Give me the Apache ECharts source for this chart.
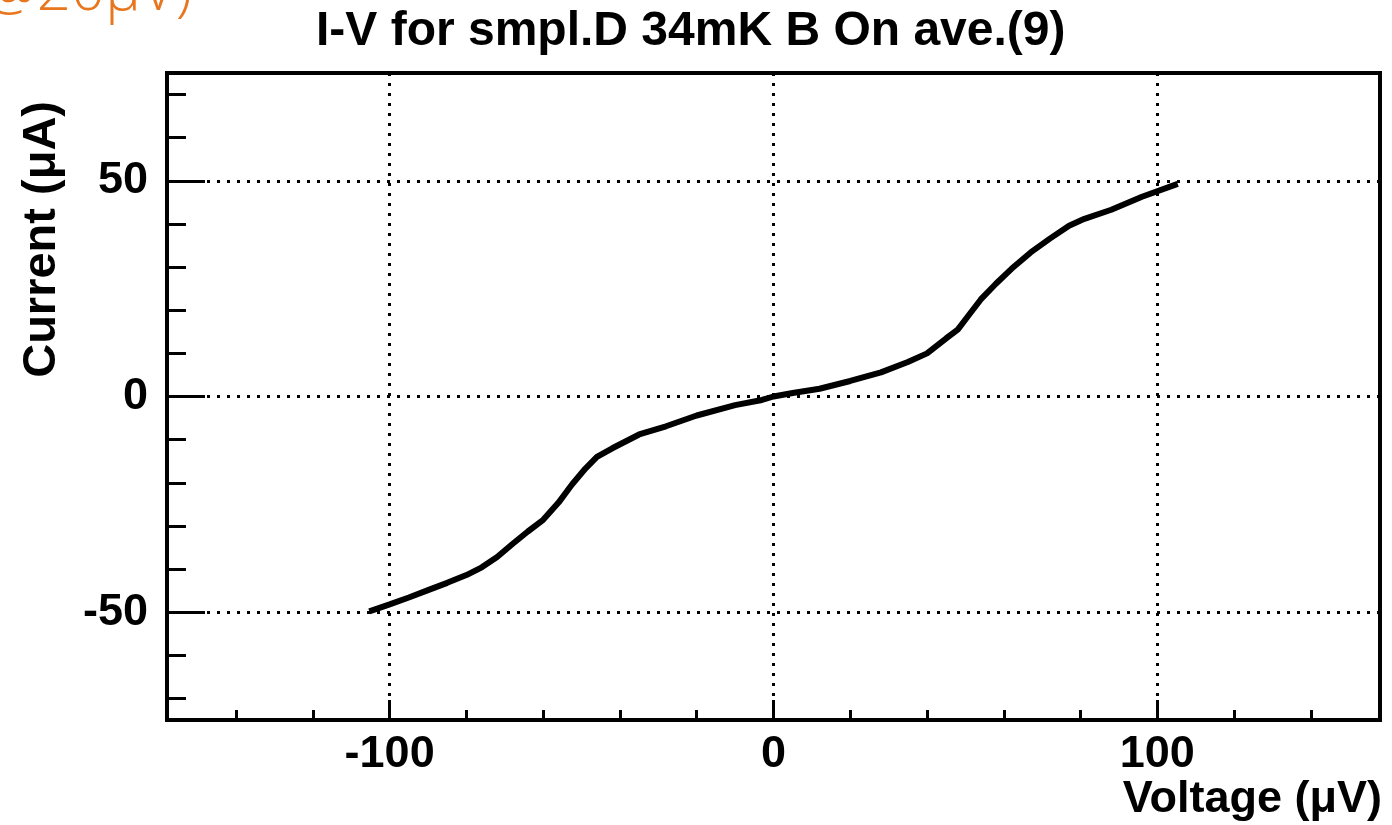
<!DOCTYPE html>
<html>
<head>
<meta charset="utf-8">
<style>
html,body{margin:0;padding:0;background:#fff;}
#chart{width:1392px;height:825px;}
</style>
<script src="https://cdn.jsdelivr.net/npm/echarts@6/dist/echarts.min.js"></script>
</head>
<body>
<div id="chart"></div>
<script>
// ---- data ----
const titleText = 'I-V for smpl.D 34mK B On ave.(9)';
const xName = 'Voltage (\u03bcV)';
const yName = 'Current (\u03bcA)';
const cornerNote = '@20\u03bcV)';
const voltage = [-105.3, -100, -95, -90, -85, -80, -76, -72, -68, -64, -60, -56, -52.5, -49, -46, -42, -35, -28, -20, -10, -3, 0,
                 5, 12, 20, 28, 35, 40, 45, 48, 51, 54, 58, 62, 67, 72, 77, 81, 88, 96, 105.3];
const current = [-49.8, -48.2, -46.6, -44.9, -43.2, -41.4, -39.6, -37.2, -34.2, -31.3, -28.6, -24.6, -20.4, -16.7, -14, -12, -8.8, -6.9, -4.4, -2, -0.8, 0,
                 0.8, 1.8, 3.6, 5.6, 8, 10, 13.5, 15.5, 19, 22.5, 26.2, 29.6, 33.4, 36.6, 39.6, 41.2, 43.3, 46.3, 49.3];
const xRange = [-158, 158];
const yRange = [-75, 75];

const points = voltage.map((v, i) => [v, current[i]]);

const chart = echarts.init(document.getElementById('chart'), null, {renderer: 'canvas'});
const labelFont = {fontFamily: 'Liberation Sans', fontWeight: 'bold', fontSize: 45, color: '#000'};
const dotted = {color: '#000', width: 3, type: [3, 7]};

chart.setOption({
  animation: false,
  backgroundColor: '#fff',
  title: {
    text: titleText,
    left: 311,
    top: 3,
    textStyle: {fontFamily: 'Liberation Sans', fontWeight: 'bold', fontSize: 48, color: '#000'}
  },
  grid: {
    left: 167, right: 12, top: 73, bottom: 105,
    show: true, borderColor: '#000', borderWidth: 4, backgroundColor: 'transparent'
  },
  xAxis: {
    type: 'value', min: xRange[0], max: xRange[1], splitNumber: 3,
    axisLine: {show: false, onZero: false},
    axisTick: {show: true, inside: true, length: 20, lineStyle: {color: '#000', width: 3}},
    minorTick: {show: true, splitNumber: 5, length: 10, lineStyle: {color: '#000', width: 3}},
    splitLine: {show: true, lineStyle: dotted},
    minorSplitLine: {show: false},
    axisLabel: Object.assign({margin: 12, formatter: v => (v % 100 === 0 ? String(v) : '')}, labelFont)
  },
  yAxis: {
    type: 'value', min: yRange[0], max: yRange[1], splitNumber: 3,
    axisLine: {show: false, onZero: false},
    axisTick: {show: true, inside: true, length: 38, lineStyle: {color: '#000', width: 3}},
    minorTick: {show: true, splitNumber: 5, length: 19, lineStyle: {color: '#000', width: 3}},
    splitLine: {show: true, lineStyle: dotted},
    minorSplitLine: {show: false},
    axisLabel: Object.assign({margin: 19, formatter: v => (v % 50 === 0 ? String(v) : '')}, labelFont)
  },
  graphic: [
    {type: 'text', x: 1382, y: 822, style: {text: xName, align: 'right', verticalAlign: 'bottom',
      font: 'bold 45px "Liberation Sans"', fill: '#000'}},
    {type: 'text', x: 42, y: 101, rotation: Math.PI / 2, style: {text: yName, align: 'right', verticalAlign: 'middle',
      font: 'bold 47px "Liberation Sans"', fill: '#000'}},
    {type: 'text', x: 192, y: 23, style: {text: cornerNote, align: 'right', verticalAlign: 'bottom',
      font: '300 60px "Open Sans"', fill: '#E8761E'}}
  ],
  series: [{
    type: 'line',
    data: points,
    showSymbol: false,
    symbol: 'none',
    lineStyle: {color: '#000', width: 6},
    z: 5
  }]
});
</script>
</body>
</html>
